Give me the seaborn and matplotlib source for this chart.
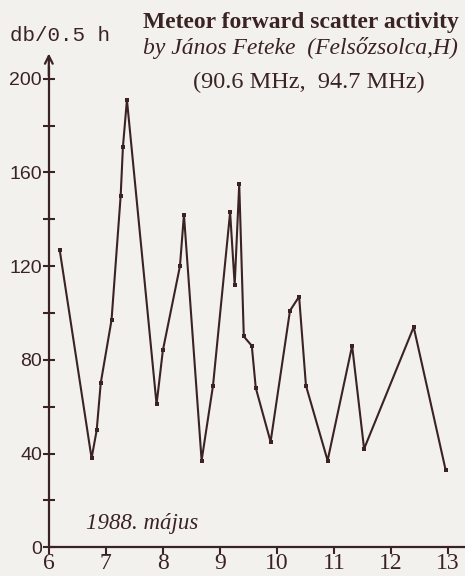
import numpy as np
import pandas as pd
import seaborn as sns
import matplotlib.pyplot as plt

# days in May 1988 and counts per half hour
day = [6.19, 6.75, 6.84, 6.91, 7.10, 7.26, 7.30, 7.37, 7.89, 8.00,
       8.30, 8.37, 8.68, 8.88, 9.18, 9.26, 9.34, 9.42, 9.56, 9.63,
       9.89, 10.23, 10.39, 10.51, 10.89, 11.32, 11.53, 12.40, 12.96]
count = [127, 38, 50, 70, 97, 150, 171, 191, 61, 84,
         120, 142, 37, 69, 143, 112, 155, 90, 86, 68,
         45, 101, 107, 69, 37, 86, 42, 94, 33]

xticks = [6, 7, 8, 9, 10, 11, 12, 13]
yticks = [0, 40, 80, 120, 160, 200]
yminor = [20, 60, 100, 140, 180]

ink = '#3a2322'
paper = '#f3f1ee'

sns.set_theme(style='white')
plt.rcParams['font.family'] = ['Liberation Serif', 'DejaVu Serif']

df = pd.DataFrame({'day': day, 'count': count})

fig = plt.figure(figsize=(4.65, 5.76), dpi=100, facecolor=paper)
ax = fig.add_axes([0.105, 0.050, 0.895, 0.862])
ax.set_facecolor(paper)

sns.lineplot(data=df, x='day', y='count', ax=ax, color=ink, linewidth=1.5,
             marker='s', markersize=3.5, markeredgewidth=0, sort=False)

ax.set_xlim(6, 13.3)
ax.set_ylim(0, 212)
ax.set_xlabel('')
ax.set_ylabel('')

for s in ['top', 'right']:
    ax.spines[s].set_visible(False)
for s in ['left', 'bottom']:
    ax.spines[s].set_color(ink)
    ax.spines[s].set_linewidth(1.6)
ax.spines['left'].set_bounds(0, 205)

ax.annotate('', xy=(6, 212), xytext=(6, 200), xycoords='data',
            arrowprops=dict(arrowstyle='->', color=ink, lw=1.6,
                            mutation_scale=14),
            annotation_clip=False)

ax.set_xticks(xticks)
ax.set_xticklabels([str(t) for t in xticks], fontsize=17, color=ink)
ax.set_yticks(yticks)
ax.set_yticklabels([str(t) for t in yticks], fontsize=14, color=ink,
                   family='Liberation Sans')
ax.set_yticks(yminor, minor=True)
ax.tick_params(axis='x', direction='out', length=5, width=1.5, color=ink,
               pad=-1, bottom=True)
ax.tick_params(axis='y', which='both', direction='inout', length=8,
               width=1.5, color=ink, pad=1, left=True)

fig.text(0.022, 0.938, 'db/0.5 h', fontsize=15, color=ink,
         family='Liberation Mono', ha='left', va='center')
fig.text(0.307, 0.961, 'Meteor forward scatter activity', fontsize=17,
         fontweight='bold', color=ink, ha='left', va='center')
fig.text(0.307, 0.916, 'by János Feteke  (Felsőzsolca,H)', fontsize=17,
         style='italic', color=ink, ha='left', va='center')
fig.text(0.665, 0.857, '(90.6 MHz,  94.7 MHz)', fontsize=17.5,
         color=ink, ha='center', va='center')
ax.text(6.66, 10, '1988. május', fontsize=16.5, style='italic', color=ink,
        ha='left', va='center')

fig.savefig('out.png', dpi=100, facecolor=paper)
